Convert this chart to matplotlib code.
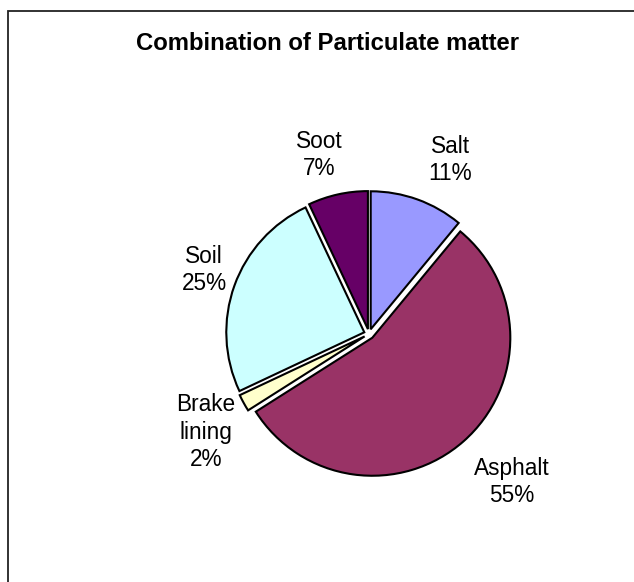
import matplotlib
matplotlib.use('Agg')
import matplotlib.pyplot as plt

# data
names = ['Salt', 'Asphalt', 'Brake\nlining', 'Soil', 'Soot']
shares = [11, 55, 2, 25, 7]
colors = ['#9999FF', '#993366', '#FFFFCC', '#CCFFFF', '#660066']

W, H = 634, 582
plt.rcParams['font.family'] = ['Liberation Sans', 'DejaVu Sans']

fig = plt.figure(figsize=(W / 100, H / 100), dpi=100)
ax = fig.add_axes([0, 0, 1, 1])
ax.set_xlim(0, W)
ax.set_ylim(0, H)
ax.set_aspect('equal')
ax.axis('off')


def yy(y):
    # image rows -> axes y
    return H - y


# explode is in data units here (pixels), not a fraction of the radius
wedges, _ = ax.pie(shares, colors=colors, startangle=90, counterclock=False,
                   center=(369, yy(334)), radius=138,
                   explode=[5] * len(shares),
                   wedgeprops=dict(edgecolor='black', linewidth=1.5))
ax.set_xlim(0, W)
ax.set_ylim(0, H)

# label placement (pixel positions of each label block)
label_pos = [(450, 160), (512, 482), (206, 432), (204, 270), (319, 155)]
for name, v, (x, y) in zip(names, shares, label_pos):
    ax.text(x, yy(y), '%s\n%d%%' % (name, v), ha='center', va='center',
            fontsize=16.3, linespacing=1.25)

ax.text(327, yy(43), 'Combination of Particulate matter', ha='center',
        va='center', fontsize=17.2, fontweight='bold')

# chart area border (right/bottom cut off)
ax.plot([8, 8, W], [0, yy(11), yy(11)], color='#222222', lw=1.3,
        solid_joinstyle='miter')

fig.savefig('out.png', dpi=100)
